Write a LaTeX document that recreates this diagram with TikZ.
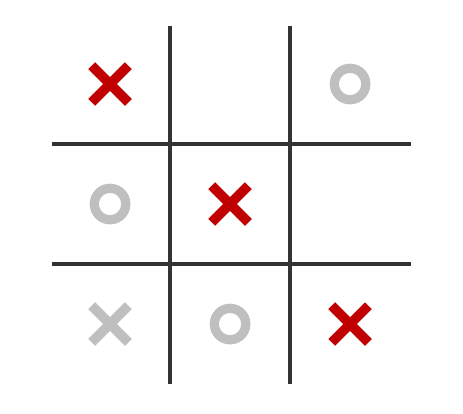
\documentclass[tikz,border=0pt]{standalone}
\usetikzlibrary{shapes.misc}
\definecolor{gridgray}{HTML}{333333}
\definecolor{xred}{HTML}{C00000}
\definecolor{ogray}{HTML}{BFBFBF}
\begin{document}
\begin{tikzpicture}[x=1cm,y=-1cm]
  \tikzstyle{gridline}=[draw=gridgray,line width=0.95pt]
  \tikzstyle{xmark}=[draw,cross out,line width=2.3pt,minimum size=0.225cm,inner sep=0pt]
  \tikzstyle{omark}=[draw=ogray,circle,line width=2.2pt,minimum size=0.262cm,inner sep=0pt]
  \useasboundingbox (0,0) rectangle (3.858,3.442);
  % board
  \draw[gridline] (1.417,0.217) -- (1.417,3.2);
  \draw[gridline] (2.417,0.217) -- (2.417,3.2);
  \draw[gridline] (0.433,1.2) -- (3.425,1.2);
  \draw[gridline] (0.433,2.2) -- (3.425,2.2);
  % moves
  \node[xmark,xred] (a1) at (0.917,0.7) {};
  \node[omark] (c1) at (2.917,0.7) {};
  \node[omark] (a2) at (0.917,1.7) {};
  \node[xmark,xred] (b2) at (1.917,1.7) {};
  \node[xmark,ogray] (a3) at (0.917,2.7) {};
  \node[omark] (b3) at (1.917,2.7) {};
  \node[xmark,xred] (c3) at (2.917,2.7) {};
\end{tikzpicture}
\end{document}
